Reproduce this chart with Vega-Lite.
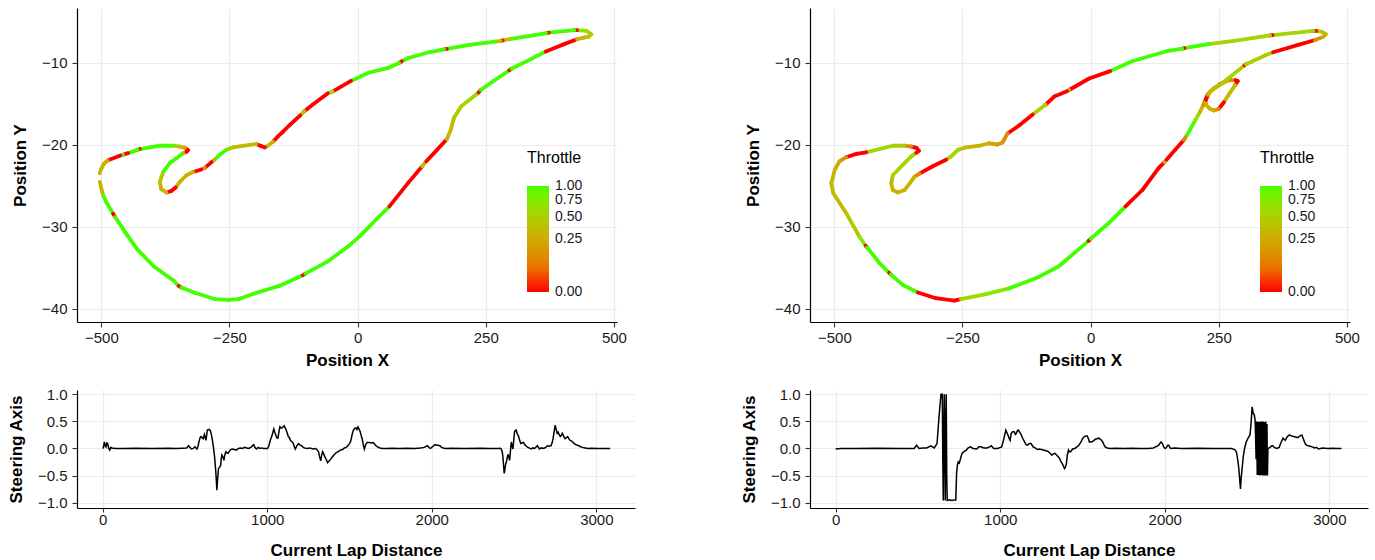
{
"$schema":"https://vega.github.io/schema/vega-lite/v6.json",
"padding":{"left":7,"top":8,"right":5,"bottom":5},
"config":{"font":"Liberation Sans","view":{"stroke":null},
"axis":{"domainColor":"#000","domainWidth":1.2,"tickColor":"#333","tickWidth":1.1,"tickSize":5,"labelFont":"Liberation Sans","labelFontSize":15,"labelColor":"#1a1a1a","labelPadding":3,"titleFont":"Liberation Sans","titleFontSize":17,"titleFontWeight":"bold","titleColor":"#000","gridColor":"#ebebeb","gridWidth":1.2},
"axisY":{"labelPadding":5,"titlePadding":12},
"legend":{"labelFont":"Liberation Sans","titleFont":"Liberation Sans","labelFontSize":14,"titleFontSize":16,"titleFontWeight":"normal","labelColor":"#1a1a1a","titleColor":"#000"}},
"datasets":{
"lap1":[
{"x":-503,"y":-24.5,"x2":-499,"y2":-25.6,"t":0.3},{"x":-499,"y":-25.6,"x2":-496,"y2":-26.2,"t":0.3},{"x":-496,"y":-26.2,"x2":-491,"y2":-26.9,"t":1},{"x":-491,"y":-26.9,"x2":-477,"y2":-28.4,"t":1},{"x":-477,"y":-28.4,"x2":-473,"y2":-28.8,"t":0},{"x":-473,"y":-28.8,"x2":-453,"y2":-30.7,"t":1},{"x":-453,"y":-30.7,"x2":-429,"y2":-32.8,"t":1},{"x":-429,"y":-32.8,"x2":-398,"y2":-34.8,"t":1},{"x":-398,"y":-34.8,"x2":-358,"y2":-36.6,"t":1},{"x":-358,"y":-36.6,"x2":-349,"y2":-37.2,"t":1},{"x":-349,"y":-37.2,"x2":-344,"y2":-37.4,"t":0},{"x":-344,"y":-37.4,"x2":-319,"y2":-38.0,"t":1},{"x":-319,"y":-38.0,"x2":-279,"y2":-38.8,"t":1},{"x":-279,"y":-38.8,"x2":-252,"y2":-38.9,"t":1},{"x":-252,"y":-38.9,"x2":-232,"y2":-38.8,"t":1},{"x":-232,"y":-38.8,"x2":-200,"y2":-38.1,"t":1},{"x":-200,"y":-38.1,"x2":-153,"y2":-37.2,"t":1},{"x":-153,"y":-37.2,"x2":-107,"y2":-35.9,"t":1},{"x":-107,"y":-35.9,"x2":-102,"y2":-35.7,"t":0},{"x":-102,"y":-35.7,"x2":-58,"y2":-34.2,"t":1},{"x":-58,"y":-34.2,"x2":-19,"y2":-32.4,"t":1},{"x":-19,"y":-32.4,"x2":5,"y2":-31.1,"t":1},{"x":5,"y":-31.1,"x2":36,"y2":-29.1,"t":1},{"x":36,"y":-29.1,"x2":62,"y2":-27.5,"t":1},{"x":62,"y":-27.5,"x2":99,"y2":-24.6,"t":0},{"x":99,"y":-24.6,"x2":126,"y2":-22.6,"t":0},{"x":126,"y":-22.6,"x2":134,"y2":-22.0,"t":0.35},{"x":134,"y":-22.0,"x2":155,"y2":-20.6,"t":0},{"x":155,"y":-20.6,"x2":174,"y2":-19.3,"t":0},{"x":174,"y":-19.3,"x2":182,"y2":-18.1,"t":0.3},{"x":182,"y":-18.1,"x2":188,"y2":-16.7,"t":0.35},{"x":188,"y":-16.7,"x2":202,"y2":-15.3,"t":0.45},{"x":202,"y":-15.3,"x2":230,"y2":-13.9,"t":0.55},{"x":230,"y":-13.9,"x2":236,"y2":-13.6,"t":0.7},{"x":236,"y":-13.6,"x2":240,"y2":-13.3,"t":0},{"x":240,"y":-13.3,"x2":265,"y2":-12.2,"t":1},{"x":265,"y":-12.2,"x2":296,"y2":-10.9,"t":1},{"x":296,"y":-10.9,"x2":300,"y2":-10.7,"t":0},{"x":300,"y":-10.7,"x2":336,"y2":-9.6,"t":1},{"x":336,"y":-9.6,"x2":367,"y2":-8.6,"t":1},{"x":367,"y":-8.6,"x2":399,"y2":-7.8,"t":0},{"x":399,"y":-7.8,"x2":428,"y2":-7.1,"t":0},{"x":428,"y":-7.1,"x2":451,"y2":-6.8,"t":0.3},{"x":451,"y":-6.8,"x2":456,"y2":-6.5,"t":0.4},{"x":456,"y":-6.5,"x2":447,"y2":-6.1,"t":0.5},{"x":447,"y":-6.1,"x2":428,"y2":-6.0,"t":0.7},{"x":428,"y":-6.0,"x2":423,"y2":-6.0,"t":0},{"x":423,"y":-6.0,"x2":373,"y2":-6.3,"t":1},{"x":373,"y":-6.3,"x2":368,"y2":-6.35,"t":0},{"x":368,"y":-6.35,"x2":336,"y2":-6.7,"t":1},{"x":336,"y":-6.7,"x2":297,"y2":-7.1,"t":1},{"x":297,"y":-7.1,"x2":283,"y2":-7.25,"t":0.4},{"x":283,"y":-7.25,"x2":279,"y2":-7.3,"t":0},{"x":279,"y":-7.3,"x2":268,"y2":-7.4,"t":0.4},{"x":268,"y":-7.4,"x2":218,"y2":-7.8,"t":1},{"x":218,"y":-7.8,"x2":174,"y2":-8.3,"t":1},{"x":174,"y":-8.3,"x2":169,"y2":-8.35,"t":0},{"x":169,"y":-8.35,"x2":139,"y2":-8.7,"t":1},{"x":139,"y":-8.7,"x2":99,"y2":-9.4,"t":1},{"x":99,"y":-9.4,"x2":86,"y2":-9.8,"t":1},{"x":86,"y":-9.8,"x2":81,"y2":-10.0,"t":0},{"x":81,"y":-10.0,"x2":60,"y2":-10.6,"t":1},{"x":60,"y":-10.6,"x2":21,"y2":-11.2,"t":1},{"x":21,"y":-11.2,"x2":-13,"y2":-12.2,"t":1},{"x":-13,"y":-12.2,"x2":-49,"y2":-13.5,"t":0},{"x":-49,"y":-13.5,"x2":-58,"y2":-13.7,"t":0.6},{"x":-58,"y":-13.7,"x2":-88,"y2":-15.1,"t":0},{"x":-88,"y":-15.1,"x2":-104,"y2":-15.9,"t":0},{"x":-104,"y":-15.9,"x2":-112,"y2":-16.4,"t":0.4},{"x":-112,"y":-16.4,"x2":-133,"y2":-17.6,"t":0},{"x":-133,"y":-17.6,"x2":-146,"y2":-18.4,"t":0},{"x":-146,"y":-18.4,"x2":-156,"y2":-19.0,"t":0},{"x":-156,"y":-19.0,"x2":-165,"y2":-19.6,"t":0},{"x":-165,"y":-19.6,"x2":-175,"y2":-20.1,"t":0.3},{"x":-175,"y":-20.1,"x2":-181,"y2":-20.3,"t":0.3},{"x":-181,"y":-20.3,"x2":-190,"y2":-20.1,"t":0},{"x":-190,"y":-20.1,"x2":-198,"y2":-19.9,"t":0},{"x":-198,"y":-19.9,"x2":-211,"y2":-20.0,"t":0.35},{"x":-211,"y":-20.0,"x2":-243,"y2":-20.3,"t":0.35},{"x":-243,"y":-20.3,"x2":-256,"y2":-20.6,"t":0.4},{"x":-256,"y":-20.6,"x2":-269,"y2":-21.2,"t":1},{"x":-269,"y":-21.2,"x2":-279,"y2":-21.8,"t":1},{"x":-279,"y":-21.8,"x2":-285,"y2":-22.1,"t":0.3},{"x":-285,"y":-22.1,"x2":-298,"y2":-22.8,"t":0},{"x":-298,"y":-22.8,"x2":-305,"y2":-23.0,"t":0.2},{"x":-305,"y":-23.0,"x2":-321,"y2":-23.3,"t":0},{"x":-321,"y":-23.3,"x2":-334,"y2":-23.7,"t":0.3},{"x":-334,"y":-23.7,"x2":-347,"y2":-24.5,"t":0.3},{"x":-347,"y":-24.5,"x2":-355,"y2":-25.2,"t":0.3},{"x":-355,"y":-25.2,"x2":-363,"y2":-25.6,"t":0},{"x":-363,"y":-25.6,"x2":-373,"y2":-25.8,"t":0},{"x":-373,"y":-25.8,"x2":-383,"y2":-25.4,"t":0.3},{"x":-383,"y":-25.4,"x2":-386,"y2":-24.5,"t":0.3},{"x":-386,"y":-24.5,"x2":-379,"y2":-23.3,"t":0.4},{"x":-379,"y":-23.3,"x2":-366,"y2":-22.2,"t":1},{"x":-366,"y":-22.2,"x2":-353,"y2":-21.6,"t":1},{"x":-353,"y":-21.6,"x2":-340,"y2":-21.0,"t":1},{"x":-340,"y":-21.0,"x2":-334,"y2":-20.85,"t":0.3},{"x":-334,"y":-20.85,"x2":-331,"y2":-20.65,"t":0},{"x":-331,"y":-20.65,"x2":-337,"y2":-20.35,"t":0},{"x":-337,"y":-20.35,"x2":-347,"y2":-20.2,"t":0.3},{"x":-347,"y":-20.2,"x2":-360,"y2":-20.1,"t":0.4},{"x":-360,"y":-20.1,"x2":-386,"y2":-20.1,"t":1},{"x":-386,"y":-20.1,"x2":-425,"y2":-20.5,"t":1},{"x":-425,"y":-20.5,"x2":-429,"y2":-20.6,"t":0},{"x":-429,"y":-20.6,"x2":-448,"y2":-21.0,"t":1},{"x":-448,"y":-21.0,"x2":-458,"y2":-21.2,"t":0},{"x":-458,"y":-21.2,"x2":-463,"y2":-21.3,"t":1},{"x":-463,"y":-21.3,"x2":-488,"y2":-21.9,"t":0},{"x":-488,"y":-21.9,"x2":-495,"y2":-22.3,"t":0.3},{"x":-495,"y":-22.3,"x2":-500,"y2":-22.9,"t":0.3},{"x":-500,"y":-22.9,"x2":-503,"y2":-23.45,"t":0.3}
],
"lap2":[
{"x":-506,"y":-24.7,"x2":-502,"y2":-25.9,"t":0.35},{"x":-502,"y":-25.9,"x2":-477,"y2":-28.3,"t":0.35},{"x":-477,"y":-28.3,"x2":-451,"y2":-31.2,"t":0.45},{"x":-451,"y":-31.2,"x2":-439,"y2":-32.3,"t":0.7},{"x":-439,"y":-32.3,"x2":-436,"y2":-32.5,"t":0},{"x":-436,"y":-32.5,"x2":-412,"y2":-34.4,"t":1},{"x":-412,"y":-34.4,"x2":-393,"y2":-35.6,"t":1},{"x":-393,"y":-35.6,"x2":-390,"y2":-35.8,"t":0},{"x":-390,"y":-35.8,"x2":-366,"y2":-37.1,"t":1},{"x":-366,"y":-37.1,"x2":-337,"y2":-38.0,"t":1},{"x":-337,"y":-38.0,"x2":-302,"y2":-38.7,"t":0},{"x":-302,"y":-38.7,"x2":-266,"y2":-39.0,"t":0},{"x":-266,"y":-39.0,"x2":-253,"y2":-38.8,"t":0},{"x":-253,"y":-38.8,"x2":-204,"y2":-38.2,"t":0.6},{"x":-204,"y":-38.2,"x2":-159,"y2":-37.5,"t":0.75},{"x":-159,"y":-37.5,"x2":-101,"y2":-36.1,"t":1},{"x":-101,"y":-36.1,"x2":-62,"y2":-34.8,"t":1},{"x":-62,"y":-34.8,"x2":-4,"y2":-31.7,"t":1},{"x":-4,"y":-31.7,"x2":0,"y2":-31.45,"t":0},{"x":0,"y":-31.45,"x2":36,"y2":-29.5,"t":1},{"x":36,"y":-29.5,"x2":68,"y2":-27.5,"t":1},{"x":68,"y":-27.5,"x2":101,"y2":-25.5,"t":0},{"x":101,"y":-25.5,"x2":133,"y2":-22.8,"t":0},{"x":133,"y":-22.8,"x2":144,"y2":-22.1,"t":0},{"x":144,"y":-22.1,"x2":148,"y2":-21.8,"t":0.3},{"x":148,"y":-21.8,"x2":165,"y2":-20.6,"t":0},{"x":165,"y":-20.6,"x2":182,"y2":-19.4,"t":0},{"x":182,"y":-19.4,"x2":188,"y2":-18.8,"t":0.1},{"x":188,"y":-18.8,"x2":204,"y2":-17.0,"t":1},{"x":204,"y":-17.0,"x2":214,"y2":-15.9,"t":0.6},{"x":214,"y":-15.9,"x2":220,"y2":-15.1,"t":0.3},{"x":220,"y":-15.1,"x2":224,"y2":-14.5,"t":0.1},{"x":224,"y":-14.5,"x2":229,"y2":-13.8,"t":0},{"x":229,"y":-13.8,"x2":240,"y2":-13.1,"t":0.2},{"x":240,"y":-13.1,"x2":252,"y2":-12.6,"t":0.3},{"x":252,"y":-12.6,"x2":262,"y2":-12.3,"t":0},{"x":262,"y":-12.3,"x2":272,"y2":-12.1,"t":0.2},{"x":272,"y":-12.1,"x2":283,"y2":-12.1,"t":0.1},{"x":283,"y":-12.1,"x2":287,"y2":-12.2,"t":0},{"x":287,"y":-12.2,"x2":282,"y2":-12.7,"t":0},{"x":282,"y":-12.7,"x2":269,"y2":-13.9,"t":0.35},{"x":269,"y":-13.9,"x2":260,"y2":-14.8,"t":0.35},{"x":260,"y":-14.8,"x2":250,"y2":-15.6,"t":0},{"x":250,"y":-15.6,"x2":240,"y2":-15.8,"t":0.1},{"x":240,"y":-15.8,"x2":233,"y2":-15.6,"t":0.3},{"x":233,"y":-15.6,"x2":225,"y2":-15.1,"t":0.3},{"x":225,"y":-15.1,"x2":225,"y2":-14.5,"t":0.3},{"x":225,"y":-14.5,"x2":229,"y2":-13.9,"t":0},{"x":229,"y":-13.9,"x2":233,"y2":-13.5,"t":0.3},{"x":233,"y":-13.5,"x2":256,"y2":-12.5,"t":0.35},{"x":256,"y":-12.5,"x2":300,"y2":-10.3,"t":0.5},{"x":300,"y":-10.3,"x2":303,"y2":-10.15,"t":0},{"x":303,"y":-10.15,"x2":340,"y2":-9.1,"t":0.5},{"x":340,"y":-9.1,"x2":356,"y2":-8.7,"t":0.5},{"x":356,"y":-8.7,"x2":405,"y2":-7.8,"t":0},{"x":405,"y":-7.8,"x2":438,"y2":-7.2,"t":0},{"x":438,"y":-7.2,"x2":454,"y2":-6.8,"t":0.15},{"x":454,"y":-6.8,"x2":459,"y2":-6.5,"t":0.3},{"x":459,"y":-6.5,"x2":451,"y2":-6.2,"t":0.35},{"x":451,"y":-6.2,"x2":440,"y2":-6.1,"t":0.4},{"x":440,"y":-6.1,"x2":435,"y2":-6.1,"t":0},{"x":435,"y":-6.1,"x2":355,"y2":-6.6,"t":0.55},{"x":355,"y":-6.6,"x2":350,"y2":-6.65,"t":0},{"x":350,"y":-6.65,"x2":280,"y2":-7.3,"t":0.55},{"x":280,"y":-7.3,"x2":230,"y2":-7.7,"t":0.55},{"x":230,"y":-7.7,"x2":211,"y2":-7.9,"t":1},{"x":211,"y":-7.9,"x2":183,"y2":-8.2,"t":1},{"x":183,"y":-8.2,"x2":179,"y2":-8.25,"t":0},{"x":179,"y":-8.25,"x2":146,"y2":-8.6,"t":1},{"x":146,"y":-8.6,"x2":81,"y2":-9.8,"t":1},{"x":81,"y":-9.8,"x2":38,"y2":-11.0,"t":1},{"x":38,"y":-11.0,"x2":-3,"y2":-11.9,"t":0},{"x":-3,"y":-11.9,"x2":-42,"y2":-13.3,"t":0},{"x":-42,"y":-13.3,"x2":-46,"y2":-13.45,"t":0.3},{"x":-46,"y":-13.45,"x2":-71,"y2":-14.1,"t":0},{"x":-71,"y":-14.1,"x2":-88,"y2":-15.1,"t":0},{"x":-88,"y":-15.1,"x2":-113,"y2":-16.3,"t":0.5},{"x":-113,"y":-16.3,"x2":-139,"y2":-17.6,"t":0},{"x":-139,"y":-17.6,"x2":-162,"y2":-18.6,"t":0},{"x":-162,"y":-18.6,"x2":-172,"y2":-19.7,"t":0.1},{"x":-172,"y":-19.7,"x2":-182,"y2":-19.95,"t":0.15},{"x":-182,"y":-19.95,"x2":-198,"y2":-19.8,"t":0.2},{"x":-198,"y":-19.8,"x2":-217,"y2":-20.1,"t":0.25},{"x":-217,"y":-20.1,"x2":-243,"y2":-20.3,"t":0.3},{"x":-243,"y":-20.3,"x2":-259,"y2":-20.6,"t":0.4},{"x":-259,"y":-20.6,"x2":-272,"y2":-21.4,"t":0.55},{"x":-272,"y":-21.4,"x2":-282,"y2":-21.8,"t":0.55},{"x":-282,"y":-21.8,"x2":-308,"y2":-22.6,"t":0},{"x":-308,"y":-22.6,"x2":-334,"y2":-23.5,"t":0},{"x":-334,"y":-23.5,"x2":-344,"y2":-23.9,"t":0.1},{"x":-344,"y":-23.9,"x2":-353,"y2":-24.7,"t":0.3},{"x":-353,"y":-24.7,"x2":-363,"y2":-25.5,"t":0.3},{"x":-363,"y":-25.5,"x2":-376,"y2":-25.8,"t":0.3},{"x":-376,"y":-25.8,"x2":-386,"y2":-25.5,"t":0.3},{"x":-386,"y":-25.5,"x2":-389,"y2":-24.7,"t":0.3},{"x":-389,"y":-24.7,"x2":-386,"y2":-23.7,"t":0.35},{"x":-386,"y":-23.7,"x2":-366,"y2":-22.4,"t":0.55},{"x":-366,"y":-22.4,"x2":-350,"y2":-21.4,"t":0.55},{"x":-350,"y":-21.4,"x2":-340,"y2":-20.95,"t":0.5},{"x":-340,"y":-20.95,"x2":-335,"y2":-20.7,"t":0},{"x":-335,"y":-20.7,"x2":-340,"y2":-20.35,"t":0},{"x":-340,"y":-20.35,"x2":-350,"y2":-20.2,"t":0},{"x":-350,"y":-20.2,"x2":-363,"y2":-20.1,"t":0.1},{"x":-363,"y":-20.1,"x2":-386,"y2":-20.1,"t":0.5},{"x":-386,"y":-20.1,"x2":-438,"y2":-20.9,"t":0.55},{"x":-438,"y":-20.9,"x2":-457,"y2":-21.1,"t":0},{"x":-457,"y":-21.1,"x2":-477,"y2":-21.5,"t":0},{"x":-477,"y":-21.5,"x2":-490,"y2":-22.0,"t":0.15},{"x":-490,"y":-22.0,"x2":-499,"y2":-23.0,"t":0.25},{"x":-499,"y":-23.0,"x2":-506,"y2":-24.7,"t":0.3}
],
"st1":[
{"d":0,"s":0.0},{"d":5,"s":0.02},{"d":10,"s":0.12},{"d":15,"s":0.06},{"d":20,"s":0.03},{"d":25,"s":0.1},{"d":30,"s":0.09},{"d":37,"s":0.0},{"d":43,"s":-0.03},{"d":50,"s":0.02},{"d":55,"s":0.01},{"d":80,"s":0.0},{"d":131,"s":0.0},{"d":200,"s":0.005},{"d":300,"s":0.0},{"d":400,"s":0.005},{"d":450,"s":0.0},{"d":510,"s":0.01},{"d":522,"s":0.05},{"d":530,"s":0.02},{"d":540,"s":-0.01},{"d":550,"s":0.0},{"d":560,"s":0.03},{"d":567,"s":0.01},{"d":573,"s":-0.01},{"d":580,"s":0.05},{"d":585,"s":0.12},{"d":592,"s":0.2},{"d":598,"s":0.22},{"d":605,"s":0.2},{"d":611,"s":0.18},{"d":618,"s":0.26},{"d":623,"s":0.2},{"d":628,"s":0.15},{"d":632,"s":0.25},{"d":636,"s":0.34},{"d":643,"s":0.35},{"d":649,"s":0.35},{"d":655,"s":0.32},{"d":661,"s":0.25},{"d":667,"s":0.15},{"d":674,"s":0.0},{"d":680,"s":-0.15},{"d":686,"s":-0.37},{"d":690,"s":-0.55},{"d":694,"s":-0.77},{"d":699,"s":-0.55},{"d":704,"s":-0.37},{"d":710,"s":-0.35},{"d":717,"s":-0.31},{"d":720,"s":-0.2},{"d":724,"s":-0.12},{"d":730,"s":-0.15},{"d":737,"s":-0.22},{"d":742,"s":-0.12},{"d":749,"s":-0.06},{"d":755,"s":-0.08},{"d":762,"s":-0.09},{"d":770,"s":-0.05},{"d":778,"s":-0.02},{"d":787,"s":-0.01},{"d":800,"s":-0.02},{"d":812,"s":-0.03},{"d":825,"s":0.0},{"d":838,"s":0.01},{"d":850,"s":0.0},{"d":862,"s":0.02},{"d":875,"s":0.01},{"d":888,"s":0.0},{"d":905,"s":0.03},{"d":912,"s":0.06},{"d":918,"s":0.07},{"d":925,"s":0.02},{"d":934,"s":-0.01},{"d":945,"s":0.02},{"d":955,"s":0.0},{"d":964,"s":0.01},{"d":980,"s":0.0},{"d":1002,"s":0.0},{"d":1010,"s":0.05},{"d":1019,"s":0.15},{"d":1030,"s":0.25},{"d":1040,"s":0.36},{"d":1046,"s":0.3},{"d":1052,"s":0.25},{"d":1058,"s":0.2},{"d":1065,"s":0.19},{"d":1071,"s":0.3},{"d":1077,"s":0.4},{"d":1084,"s":0.38},{"d":1090,"s":0.38},{"d":1097,"s":0.4},{"d":1103,"s":0.42},{"d":1109,"s":0.38},{"d":1115,"s":0.34},{"d":1122,"s":0.28},{"d":1128,"s":0.22},{"d":1135,"s":0.2},{"d":1141,"s":0.15},{"d":1147,"s":0.13},{"d":1153,"s":0.12},{"d":1160,"s":0.08},{"d":1166,"s":0.02},{"d":1171,"s":-0.01},{"d":1180,"s":0.05},{"d":1191,"s":0.09},{"d":1200,"s":0.06},{"d":1208,"s":0.05},{"d":1216,"s":0.03},{"d":1225,"s":0.01},{"d":1242,"s":0.0},{"d":1260,"s":0.01},{"d":1275,"s":-0.01},{"d":1292,"s":0.0},{"d":1302,"s":-0.02},{"d":1312,"s":-0.06},{"d":1318,"s":-0.15},{"d":1325,"s":-0.23},{"d":1331,"s":-0.12},{"d":1337,"s":-0.06},{"d":1343,"s":-0.1},{"d":1350,"s":-0.15},{"d":1358,"s":-0.2},{"d":1367,"s":-0.26},{"d":1373,"s":-0.24},{"d":1380,"s":-0.22},{"d":1392,"s":-0.17},{"d":1405,"s":-0.12},{"d":1418,"s":-0.08},{"d":1431,"s":-0.06},{"d":1445,"s":-0.03},{"d":1458,"s":-0.02},{"d":1469,"s":0.01},{"d":1480,"s":0.02},{"d":1490,"s":0.05},{"d":1500,"s":0.09},{"d":1506,"s":0.12},{"d":1512,"s":0.2},{"d":1518,"s":0.28},{"d":1524,"s":0.34},{"d":1531,"s":0.37},{"d":1539,"s":0.38},{"d":1545,"s":0.35},{"d":1552,"s":0.4},{"d":1558,"s":0.36},{"d":1565,"s":0.31},{"d":1571,"s":0.24},{"d":1577,"s":0.18},{"d":1583,"s":0.08},{"d":1590,"s":-0.01},{"d":1596,"s":0.05},{"d":1602,"s":0.09},{"d":1607,"s":0.11},{"d":1620,"s":0.11},{"d":1633,"s":0.1},{"d":1645,"s":0.11},{"d":1658,"s":0.06},{"d":1670,"s":0.03},{"d":1685,"s":0.01},{"d":1700,"s":0.0},{"d":1721,"s":0.0},{"d":1760,"s":0.005},{"d":1800,"s":0.0},{"d":1850,"s":0.005},{"d":1898,"s":0.0},{"d":1930,"s":0.01},{"d":1955,"s":0.02},{"d":1965,"s":0.04},{"d":1973,"s":0.05},{"d":1980,"s":0.03},{"d":1986,"s":0.01},{"d":1993,"s":0.0},{"d":2003,"s":0.03},{"d":2012,"s":0.05},{"d":2018,"s":0.07},{"d":2024,"s":0.07},{"d":2030,"s":0.06},{"d":2038,"s":0.06},{"d":2049,"s":0.05},{"d":2060,"s":0.02},{"d":2070,"s":0.01},{"d":2079,"s":0.0},{"d":2120,"s":0.005},{"d":2200,"s":0.0},{"d":2300,"s":0.005},{"d":2350,"s":0.0},{"d":2402,"s":0.0},{"d":2415,"s":0.005},{"d":2422,"s":-0.01},{"d":2428,"s":-0.06},{"d":2432,"s":-0.15},{"d":2436,"s":-0.3},{"d":2440,"s":-0.46},{"d":2444,"s":-0.4},{"d":2448,"s":-0.3},{"d":2453,"s":-0.25},{"d":2458,"s":-0.18},{"d":2462,"s":-0.12},{"d":2465,"s":-0.12},{"d":2469,"s":-0.17},{"d":2473,"s":-0.22},{"d":2478,"s":-0.05},{"d":2483,"s":0.12},{"d":2488,"s":0.05},{"d":2493,"s":-0.01},{"d":2498,"s":0.15},{"d":2503,"s":0.31},{"d":2508,"s":0.33},{"d":2513,"s":0.34},{"d":2518,"s":0.28},{"d":2523,"s":0.25},{"d":2528,"s":0.22},{"d":2535,"s":0.14},{"d":2541,"s":0.09},{"d":2548,"s":0.1},{"d":2558,"s":0.11},{"d":2565,"s":0.07},{"d":2572,"s":0.05},{"d":2579,"s":0.03},{"d":2590,"s":0.01},{"d":2604,"s":-0.01},{"d":2615,"s":0.01},{"d":2625,"s":0.0},{"d":2635,"s":0.03},{"d":2642,"s":0.05},{"d":2648,"s":0.02},{"d":2654,"s":-0.01},{"d":2665,"s":0.01},{"d":2680,"s":0.0},{"d":2692,"s":0.02},{"d":2704,"s":0.05},{"d":2715,"s":0.04},{"d":2725,"s":0.05},{"d":2731,"s":0.1},{"d":2737,"s":0.18},{"d":2743,"s":0.3},{"d":2750,"s":0.43},{"d":2756,"s":0.35},{"d":2762,"s":0.28},{"d":2768,"s":0.3},{"d":2775,"s":0.25},{"d":2781,"s":0.22},{"d":2787,"s":0.24},{"d":2793,"s":0.28},{"d":2800,"s":0.24},{"d":2805,"s":0.2},{"d":2810,"s":0.18},{"d":2818,"s":0.2},{"d":2826,"s":0.22},{"d":2833,"s":0.18},{"d":2840,"s":0.15},{"d":2848,"s":0.14},{"d":2856,"s":0.12},{"d":2866,"s":0.09},{"d":2875,"s":0.07},{"d":2885,"s":0.06},{"d":2894,"s":0.05},{"d":2905,"s":0.03},{"d":2915,"s":0.02},{"d":2932,"s":0.01},{"d":2950,"s":0.0},{"d":2970,"s":0.005},{"d":3008,"s":0.0},{"d":3040,"s":0.0},{"d":3084,"s":0.0}
],
"st2":[
{"d":0,"s":-0.01},{"d":30,"s":0.0},{"d":122,"s":0.0},{"d":250,"s":0.005},{"d":400,"s":0.0},{"d":477,"s":0.0},{"d":492,"s":0.06},{"d":507,"s":0.0},{"d":530,"s":0.01},{"d":553,"s":0.01},{"d":578,"s":0.05},{"d":599,"s":0.01},{"d":616,"s":0.09},{"d":629,"s":0.62},{"d":640,"s":1.0},{"d":648,"s":1.0},{"d":651,"s":-0.2},{"d":654,"s":-0.96},{"d":657,"s":0.3},{"d":660,"s":1.0},{"d":663,"s":0.1},{"d":666,"s":-0.96},{"d":669,"s":0.4},{"d":672,"s":1.0},{"d":675,"s":-0.5},{"d":678,"s":-0.96},{"d":690,"s":-0.95},{"d":705,"s":-0.96},{"d":720,"s":-0.95},{"d":730,"s":-0.95},{"d":735,"s":-0.45},{"d":740,"s":-0.3},{"d":745,"s":-0.25},{"d":751,"s":-0.27},{"d":756,"s":-0.22},{"d":762,"s":-0.15},{"d":768,"s":-0.09},{"d":780,"s":-0.06},{"d":794,"s":-0.03},{"d":805,"s":0.01},{"d":819,"s":0.03},{"d":835,"s":0.0},{"d":858,"s":-0.01},{"d":870,"s":0.03},{"d":883,"s":0.03},{"d":900,"s":0.01},{"d":921,"s":0.01},{"d":935,"s":0.03},{"d":946,"s":0.05},{"d":960,"s":0.0},{"d":984,"s":0.0},{"d":1009,"s":0.03},{"d":1022,"s":0.18},{"d":1034,"s":0.34},{"d":1047,"s":0.25},{"d":1055,"s":0.18},{"d":1060,"s":0.15},{"d":1067,"s":0.28},{"d":1075,"s":0.31},{"d":1085,"s":0.31},{"d":1092,"s":0.26},{"d":1098,"s":0.28},{"d":1105,"s":0.33},{"d":1110,"s":0.34},{"d":1118,"s":0.3},{"d":1128,"s":0.25},{"d":1138,"s":0.18},{"d":1148,"s":0.12},{"d":1157,"s":0.07},{"d":1166,"s":0.06},{"d":1176,"s":0.09},{"d":1187,"s":0.09},{"d":1200,"s":0.03},{"d":1212,"s":0.01},{"d":1225,"s":-0.02},{"d":1238,"s":-0.01},{"d":1262,"s":-0.03},{"d":1288,"s":-0.05},{"d":1300,"s":-0.08},{"d":1313,"s":-0.12},{"d":1325,"s":-0.1},{"d":1333,"s":-0.09},{"d":1345,"s":-0.13},{"d":1351,"s":-0.15},{"d":1360,"s":-0.18},{"d":1370,"s":-0.25},{"d":1377,"s":-0.28},{"d":1385,"s":-0.33},{"d":1390,"s":-0.37},{"d":1396,"s":-0.35},{"d":1402,"s":-0.28},{"d":1408,"s":-0.12},{"d":1415,"s":-0.03},{"d":1420,"s":-0.06},{"d":1428,"s":-0.06},{"d":1440,"s":-0.01},{"d":1453,"s":0.0},{"d":1466,"s":0.03},{"d":1478,"s":0.06},{"d":1491,"s":0.12},{"d":1500,"s":0.18},{"d":1511,"s":0.22},{"d":1520,"s":0.23},{"d":1529,"s":0.23},{"d":1536,"s":0.18},{"d":1542,"s":0.12},{"d":1555,"s":0.12},{"d":1567,"s":0.14},{"d":1578,"s":0.17},{"d":1588,"s":0.18},{"d":1597,"s":0.19},{"d":1605,"s":0.18},{"d":1615,"s":0.15},{"d":1623,"s":0.12},{"d":1630,"s":0.07},{"d":1638,"s":0.03},{"d":1650,"s":0.01},{"d":1669,"s":0.0},{"d":1700,"s":0.005},{"d":1750,"s":0.0},{"d":1800,"s":0.005},{"d":1850,"s":0.0},{"d":1897,"s":0.0},{"d":1930,"s":0.01},{"d":1960,"s":0.05},{"d":1970,"s":0.09},{"d":1978,"s":0.12},{"d":1986,"s":0.09},{"d":1993,"s":0.03},{"d":2003,"s":0.0},{"d":2011,"s":0.02},{"d":2018,"s":0.06},{"d":2024,"s":0.06},{"d":2030,"s":0.02},{"d":2036,"s":0.0},{"d":2060,"s":0.01},{"d":2100,"s":0.0},{"d":2200,"s":0.005},{"d":2300,"s":0.0},{"d":2404,"s":0.0},{"d":2425,"s":-0.02},{"d":2435,"s":-0.06},{"d":2443,"s":-0.2},{"d":2450,"s":-0.37},{"d":2456,"s":-0.6},{"d":2460,"s":-0.75},{"d":2464,"s":-0.55},{"d":2470,"s":-0.37},{"d":2477,"s":-0.15},{"d":2485,"s":0.0},{"d":2495,"s":0.12},{"d":2506,"s":0.19},{"d":2518,"s":0.25},{"d":2524,"s":0.45},{"d":2531,"s":0.77},{"d":2537,"s":0.65},{"d":2544,"s":0.62},{"d":2549,"s":0.52},{"d":2552,"s":0.2},{"d":2555,"s":-0.2},{"d":2558,"s":0.5},{"d":2562,"s":-0.49},{"d":2566,"s":0.5},{"d":2570,"s":-0.49},{"d":2574,"s":0.49},{"d":2578,"s":-0.5},{"d":2582,"s":0.5},{"d":2586,"s":-0.49},{"d":2590,"s":0.5},{"d":2594,"s":-0.5},{"d":2598,"s":0.5},{"d":2602,"s":-0.5},{"d":2606,"s":0.49},{"d":2610,"s":-0.5},{"d":2614,"s":0.5},{"d":2618,"s":-0.5},{"d":2621,"s":0.45},{"d":2624,"s":-0.5},{"d":2627,"s":0.0},{"d":2635,"s":0.01},{"d":2643,"s":0.03},{"d":2650,"s":0.05},{"d":2656,"s":0.05},{"d":2665,"s":0.02},{"d":2681,"s":0.0},{"d":2695,"s":0.02},{"d":2705,"s":0.1},{"d":2719,"s":0.19},{"d":2725,"s":0.17},{"d":2732,"s":0.15},{"d":2745,"s":0.22},{"d":2757,"s":0.25},{"d":2770,"s":0.23},{"d":2783,"s":0.22},{"d":2795,"s":0.21},{"d":2808,"s":0.2},{"d":2820,"s":0.23},{"d":2833,"s":0.25},{"d":2843,"s":0.17},{"d":2853,"s":0.09},{"d":2862,"s":0.06},{"d":2871,"s":0.05},{"d":2883,"s":0.04},{"d":2896,"s":0.03},{"d":2910,"s":0.01},{"d":2922,"s":0.02},{"d":2934,"s":-0.01},{"d":2945,"s":0.0},{"d":2960,"s":0.01},{"d":2990,"s":0.0},{"d":3020,"s":0.005},{"d":3050,"s":0.0},{"d":3074,"s":0.0}
]
},
"resolve":{"scale":{"x":"independent","y":"independent","color":"independent"},"legend":{"color":"independent"}},
"spacing":105,
"hconcat":[
{"spacing":19,"resolve":{"scale":{"x":"independent","y":"independent","color":"independent"},"legend":{"color":"independent"}},
"vconcat":[
{"width":540,"height":314,"data":{"name":"lap1"},
"mark":{"type":"rule","strokeWidth":3.8,"strokeCap":"round"},
"encoding":{
"x":{"field":"x","type":"quantitative","scale":{"domain":[-547.5,506],"nice":false,"zero":false},"axis":{"values":[-500,-250,0,250,500],"format":"d","title":"Position X","titlePadding":7}},
"x2":{"field":"x2"},
"y":{"field":"y","type":"quantitative","scale":{"domain":[-41.6,-3.3],"nice":false,"zero":false},"axis":{"values":[-40,-30,-20,-10],"format":"d","title":"Position Y"}},
"y2":{"field":"y2"},
"color":{"field":"t","type":"quantitative","scale":{"type":"sqrt","domain":[0,1],"range":["#ff0000","#44ff00"],"interpolate":"lab"},
"legend":{"title":"Throttle","orient":"none","legendX":450,"legendY":142,"direction":"vertical","values":[0,0.25,0.5,0.75,1],"format":".2f","gradientLength":106,"gradientThickness":22,"gradientStrokeWidth":0,"titlePadding":20,"labelOffset":6,"labelOverlap":false,"encode":{"labels":{"update":{"baseline":{"value":"middle"}}}}}}}},
{"width":558,"height":118,"data":{"name":"st1"},
"mark":{"type":"line","color":"#000","strokeWidth":1.5},
"encoding":{
"x":{"field":"d","type":"quantitative","scale":{"domain":[-156,3235],"nice":false,"zero":false},"axis":{"values":[0,1000,2000,3000],"format":"d","title":"Current Lap Distance","tickSize":4,"labelPadding":0,"titlePadding":15}},
"y":{"field":"s","type":"quantitative","scale":{"domain":[-1.1,1.08],"nice":false,"zero":false},"axis":{"values":[-1,-0.5,0,0.5,1],"format":".1f","title":"Steering Axis"}}}}
]},
{"spacing":19,"resolve":{"scale":{"x":"independent","y":"independent","color":"independent"},"legend":{"color":"independent"}},
"vconcat":[
{"width":540,"height":314,"data":{"name":"lap2"},
"mark":{"type":"rule","strokeWidth":3.8,"strokeCap":"round"},
"encoding":{
"x":{"field":"x","type":"quantitative","scale":{"domain":[-547.5,506],"nice":false,"zero":false},"axis":{"values":[-500,-250,0,250,500],"format":"d","title":"Position X","titlePadding":7}},
"x2":{"field":"x2"},
"y":{"field":"y","type":"quantitative","scale":{"domain":[-41.6,-3.3],"nice":false,"zero":false},"axis":{"values":[-40,-30,-20,-10],"format":"d","title":"Position Y"}},
"y2":{"field":"y2"},
"color":{"field":"t","type":"quantitative","scale":{"type":"sqrt","domain":[0,1],"range":["#ff0000","#44ff00"],"interpolate":"lab"},
"legend":{"title":"Throttle","orient":"none","legendX":450,"legendY":142,"direction":"vertical","values":[0,0.25,0.5,0.75,1],"format":".2f","gradientLength":106,"gradientThickness":22,"gradientStrokeWidth":0,"titlePadding":20,"labelOffset":6,"labelOverlap":false,"encode":{"labels":{"update":{"baseline":{"value":"middle"}}}}}}}},
{"width":558,"height":118,"data":{"name":"st2"},
"mark":{"type":"line","color":"#000","strokeWidth":1.5},
"encoding":{
"x":{"field":"d","type":"quantitative","scale":{"domain":[-156,3235],"nice":false,"zero":false},"axis":{"values":[0,1000,2000,3000],"format":"d","title":"Current Lap Distance","tickSize":4,"labelPadding":0,"titlePadding":15}},
"y":{"field":"s","type":"quantitative","scale":{"domain":[-1.1,1.08],"nice":false,"zero":false},"axis":{"values":[-1,-0.5,0,0.5,1],"format":".1f","title":"Steering Axis"}}}}
]}
]
}
